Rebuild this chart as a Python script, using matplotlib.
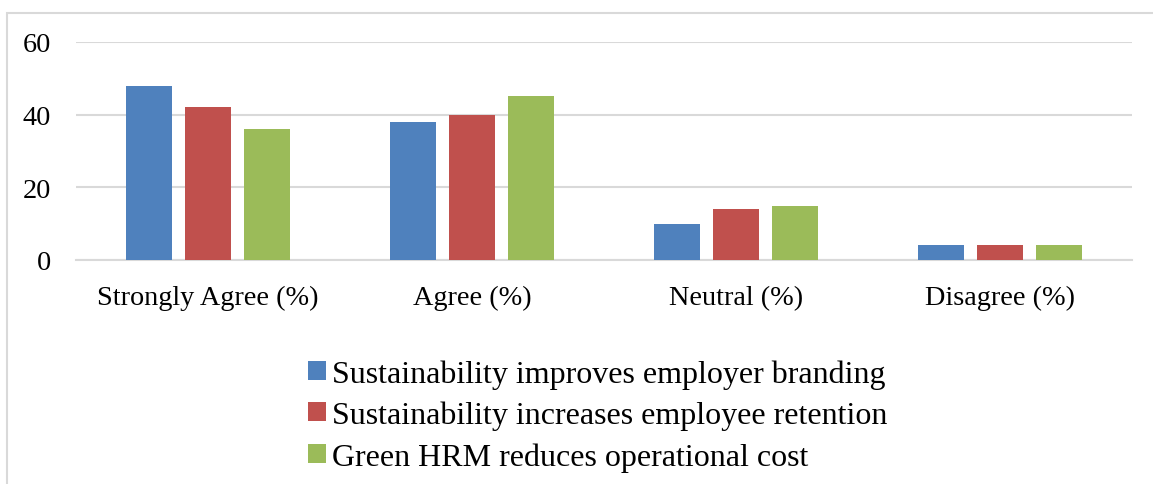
import matplotlib
matplotlib.use("Agg")
import matplotlib.pyplot as plt
import numpy as np
from matplotlib.patches import Rectangle, Patch

categories = ["Strongly Agree (%)", "Agree (%)", "Neutral (%)", "Disagree (%)"]
series_names = ["Sustainability improves employer branding",
                "Sustainability increases employee retention",
                "Green HRM reduces operational cost"]
branding = [48, 38, 10, 4]
retention = [42, 40, 14, 4]
cost = [36, 45, 15, 4]
yticks = [0, 20, 40, 60]

colors = ["#4F81BD", "#C0504D", "#9BBB59"]
plt.rcParams['font.family'] = ['Liberation Serif', 'DejaVu Serif']

fig = plt.figure(figsize=(11.53, 4.85), dpi=100)
ax = fig.add_axes([76/1153, 224/485, (1132-76)/1153, (261-43)/485])

x = np.arange(len(categories))
pitch = 59/264
width = 46/264
for k, (vals, c) in enumerate(zip([branding, retention, cost], colors)):
    ax.bar(x + (k-1)*pitch, vals, width=width, color=c, label=series_names[k], zorder=3)

ax.set_xlim(-0.5, len(categories)-0.5)
ax.set_ylim(0, 60)
ax.set_yticks(yticks)
ax.set_xticks(x)
ax.set_xticklabels(categories)
ax.tick_params(axis='both', length=0, labelsize=20.3)
ax.tick_params(axis='y', pad=18)
ax.tick_params(axis='x', pad=18)
ax.grid(axis='y', color='#d9d9d9', linewidth=1.5, zorder=0)
for s in ['top', 'right', 'left']:
    ax.spines[s].set_visible(False)
ax.spines['bottom'].set_color('#d9d9d9')
ax.spines['bottom'].set_linewidth(1.5)

# chart frame
fig.patches.append(Rectangle((7/1153, -0.2), 1.2, 1 - 14/485 + 0.2,
                             transform=fig.transFigure, fill=False,
                             edgecolor='#d9d9d9', linewidth=1.5))

handles = [Patch(facecolor=c) for c in colors]
fig.legend(handles, series_names, loc='upper left',
           bbox_to_anchor=(308/1153, 1 - 360/485), frameon=False,
           fontsize=23, handlelength=0.55, handleheight=0.55,
           handletextpad=0.2, labelspacing=0.38, borderpad=0, borderaxespad=0)

fig.savefig("out.png", dpi=100)
